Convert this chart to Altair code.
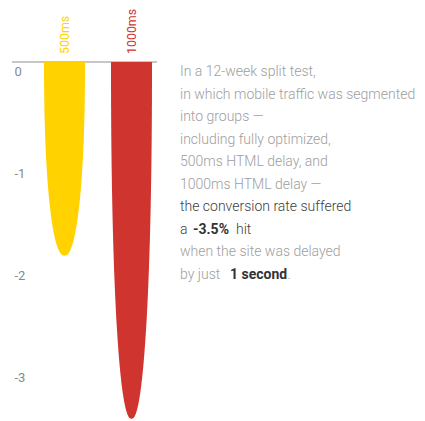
import altair as alt
import pandas as pd
import numpy as np

# ---- data ----
categories = ["500ms", "1000ms"]
values = [-1.9, -3.5]
bar_colors = ["#FFD200", "#D0342F"]
tick_values = [0, -1, -2, -3]

text_lines = [
    "In a 12-week split test,",
    "in which mobile traffic was segmented",
    "into groups —",
    "including fully optimized,",
    "500ms HTML delay, and",
    "1000ms HTML delay —",
    "the conversion rate suffered",
    "a |-3.5%| hit",
    "when the site was delayed",
    "by just |1 second|.",
]

# ---- style / layout ----
FONT = "Roboto, sans-serif"
LIGHT = "#9e9e9e"
DARK = "#404040"
FS = 14.0
W, H = 409, 412
Y_DOMAIN = [-3.5098, 0.5294]
X_DOMAIN = [-0.8433, (W - 56.5) / 67]
HALF = 0.306
P = 2.2

rows = []
ts = np.concatenate([np.linspace(0, 0.9, 40), np.linspace(0.9, 1.0, 40)[1:]])
for i, (c, v) in enumerate(zip(categories, values)):
    for t in ts:
        hw = HALF * (1 - t ** P) ** (1 / P)
        rows.append({"cat": c, "y": v * t, "left": i - hw, "right": i + hw})
shape = pd.DataFrame(rows)
labels = pd.DataFrame({"cat": categories, "idx": list(range(len(categories))), "zero": [0] * len(categories)})

xs = alt.Scale(domain=X_DOMAIN, nice=False, zero=False)
ys = alt.Scale(domain=Y_DOMAIN, nice=False, zero=False)
col = alt.Color("cat:N", scale=alt.Scale(domain=categories, range=bar_colors), legend=None)

yaxis = alt.Axis(
    values=tick_values, domain=False, ticks=False, tickSize=0, grid=False, title=None,
    labelAlign="left", labelBaseline="middle", labelOffset=9.5, labelPadding=0,
    offset=-6, labelColor="#8a8a8a", labelFontSize=13, labelFont=FONT,
    labelExpr="datum.value == 0 ? '0' : '-' + abs(datum.value)")

baseline = alt.Chart(pd.DataFrame({"zero": [0]})).mark_rule(color="#b5b5b5", strokeWidth=1.5).encode(
    y=alt.Y("zero:Q", scale=ys, axis=yaxis),
    x=alt.value(4), x2=alt.value(149),
)

bars = alt.Chart(shape).mark_area(orient="horizontal").encode(
    y=alt.Y("y:Q", scale=ys, axis=yaxis),
    x=alt.X("left:Q", scale=xs, axis=None, stack=None),
    x2="right:Q",
    color=col,
    detail="cat:N",
)

cat_text = alt.Chart(labels).mark_text(angle=270, align="left", baseline="middle", dx=8,
                                       fontSize=12.4, font=FONT).encode(
    x=alt.X("idx:Q", scale=xs, axis=None),
    y=alt.Y("zero:Q", scale=ys, axis=yaxis),
    text="cat:N",
    color=col,
)

layers = [baseline, bars, cat_text]

TX = 172
TY0 = 68
DY = 22.5
seg_x = {7: [172, 185, 228], 9: [172, 222, 279.5]}
for i, line in enumerate(text_lines):
    y = TY0 + DY * i
    parts = line.split("|")
    if len(parts) == 1:
        color = DARK if i == 6 else LIGHT
        layers.append(alt.Chart(pd.DataFrame({"t": [line]})).mark_text(
            align="left", baseline="alphabetic", fontSize=FS, font=FONT, color=color,
            fontWeight=300
        ).encode(x=alt.value(TX), y=alt.value(y), text="t:N"))
    else:
        for j, part in enumerate(parts):
            bold = j == 1
            if i == 7:
                color = "#333333" if bold else DARK
            else:
                color = "#333333" if bold else LIGHT
            layers.append(alt.Chart(pd.DataFrame({"t": [part.strip()]})).mark_text(
                align="left", baseline="alphabetic", fontSize=FS, font=FONT, color=color,
                fontWeight="bold" if bold else 300
            ).encode(x=alt.value(seg_x[i][j]), y=alt.value(y), text="t:N"))

chart = alt.layer(*layers).properties(
    width=W, height=H, padding=0,
    autosize=alt.AutoSizeParams(type="none"),
).configure_view(stroke=None)

chart.save("out.html", embed_options={"renderer": "svg", "actions": False})
